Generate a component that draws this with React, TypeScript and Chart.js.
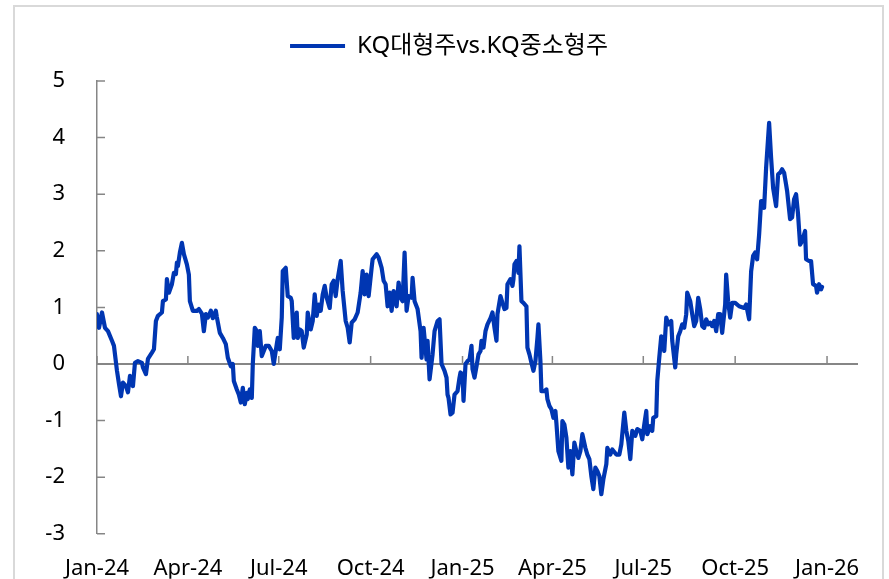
import { useEffect, useRef } from "react";
import { Chart, registerables } from "chart.js";

Chart.register(...registerables);

const SERIES_LABEL = "KQ대형주vs.KQ중소형주";
const LINE_COLOR = "#0036B2";

// x axis: days since 2024-01-01, quarterly labels
const tickDays = [0, 91, 182, 274, 366, 456, 547, 639, 731];
const tickLabels = ["Jan-24", "Apr-24", "Jul-24", "Oct-24", "Jan-25", "Apr-25", "Jul-25", "Oct-25", "Jan-26"];
const axisMaxDay = 762;
const yTicks = [-3, -2, -1, 0, 1, 2, 3, 4, 5];

// observation days (since 2024-01-01)
const days = [
  0, 2, 5, 8, 11, 15, 17, 20, 22, 24,
  26, 29, 31, 33, 36, 38, 41, 45, 46, 49,
  51, 55, 57, 59, 61, 65, 66, 69, 70, 72,
  75, 77, 79, 80, 81, 83, 85, 87, 90, 92,
  93, 96, 100, 102, 105, 107, 109, 111, 114, 116,
  119, 120, 123, 126, 129, 131, 134, 136, 137, 140,
  142, 144, 146, 148, 150, 151, 153, 155, 156, 158,
  160, 161, 163, 165, 169, 172, 175, 177, 180, 181,
  183, 185, 186, 189, 191, 194, 195, 197, 200, 201,
  203, 205, 207, 210, 211, 214, 216, 218, 220, 222,
  224, 226, 228, 230, 233, 235, 237, 239, 241, 244,
  246, 249, 251, 253, 255, 258, 261, 264, 266, 268,
  270, 272, 275, 276, 280, 282, 285, 287, 289, 291,
  293, 295, 297, 300, 302, 304, 306, 308, 310, 312,
  315, 316, 318, 321, 324, 325, 327, 330, 331, 333,
  336, 338, 341, 343, 345, 348, 350, 351, 352, 354,
  356, 358, 361, 363, 364, 366, 367, 369, 371, 373,
  375, 376, 378, 380, 382, 384, 385, 387, 389, 391,
  394, 396, 398, 400, 401, 404, 406, 408, 410, 411,
  414, 416, 417, 418, 420, 422, 423, 425, 427, 430,
  431, 433, 435, 437, 439, 441, 442, 444, 445, 448,
  450, 451, 453, 455, 457, 459, 460, 462, 465, 466,
  468, 470, 472, 474, 476, 478, 480, 482, 484, 486,
  489, 491, 493, 495, 497, 499, 501, 503, 505, 507,
  510, 511, 514, 516, 520, 523, 525, 528, 530, 532,
  534, 536, 539, 541, 544, 546, 548, 550, 551, 554,
  556, 557, 560, 561, 563, 565, 566, 568, 570, 572,
  575, 576, 579, 580, 582, 584, 586, 588, 590, 591,
  594, 596, 598, 600, 602, 604, 606, 608, 610, 612,
  614, 616, 618, 620, 622, 624, 626, 629, 630, 632,
  634, 636, 639, 643, 648, 650, 653, 655, 657, 659,
  661, 663, 665, 666, 668, 670, 673, 675, 677, 680,
  682, 684, 686, 688, 690, 691, 694, 696, 698, 700,
  702, 704, 706, 709, 710, 713, 715, 717, 720, 721,
  723, 725, 726,
];

// KQ large caps vs KQ small/mid caps spread
const spread = [
  0.88, 0.64, 0.91, 0.64, 0.58, 0.41, 0.32, -0.12, -0.35, -0.57,
  -0.33, -0.39, -0.5, -0.21, -0.39, 0.02, 0.05, 0.02, -0.06, -0.18,
  0.09, 0.2, 0.26, 0.76, 0.85, 0.91, 1.11, 1.14, 1.5, 1.26,
  1.41, 1.61, 1.59, 1.79, 1.73, 1.97, 2.14, 1.94, 1.76, 1.58,
  1.11, 0.94, 0.94, 0.97, 0.89, 0.58, 0.88, 0.82, 0.94, 0.81,
  0.94, 0.83, 0.55, 0.46, 0.35, 0.11, -0.04, 0, -0.3, -0.45,
  -0.54, -0.68, -0.42, -0.71, -0.51, -0.62, -0.45, -0.6, 0, 0.64,
  0.58, 0.32, 0.58, 0.14, 0.32, 0.32, 0.23, 0, 0.35, 0.46,
  0.26, 0.82, 1.64, 1.7, 1.2, 1.17, 1.11, 0.46, 0.91, 0.46,
  0.61, 0.58, 0.29, 0.52, 0.91, 0.61, 0.76, 1.23, 0.85, 1.05,
  0.94, 1.23, 1.38, 1.17, 0.99, 1.41, 1.47, 1.2, 1.5, 1.82,
  1.29, 0.76, 0.64, 0.38, 0.73, 0.79, 0.91, 1.26, 1.64, 1.23,
  1.58, 1.2, 1.7, 1.85, 1.94, 1.88, 1.7, 1.47, 1.41, 1.02,
  1.26, 0.94, 1.29, 1.02, 1.44, 1.17, 1.11, 1.97, 0.94, 1.2,
  1.17, 1.52, 1.11, 0.97, 0.58, 0.11, 0.64, 0.08, 0.41, -0.27,
  0.17, 0.58, 0.76, 0.79, 0, -0.12, -0.24, -0.54, -0.6, -0.89,
  -0.86, -0.54, -0.48, -0.24, -0.15, -0.18, -0.65, 0, 0.05, 0.08,
  0.32, -0.09, -0.24, -0.04, 0.17, 0.23, 0.41, 0.29, 0.58, 0.7,
  0.81, 0.91, 0.64, 0.41, 0.88, 1.2, 1.08, 0.97, 0.99, 1.41,
  1.5, 1.38, 1.5, 1.76, 1.82, 1.61, 2.08, 1.11, 1.08, 1.02,
  0.29, 0.17, 0.02, -0.12, 0.05, 0.46, 0.7, 0.05, -0.48, -0.48,
  -0.45, -0.62, -0.74, -0.8, -0.95, -0.83, -1.04, -1.54, -1.71, -1.01,
  -1.07, -1.3, -1.83, -1.54, -1.95, -1.39, -1.54, -1.66, -1.54, -1.24,
  -1.48, -1.6, -1.68, -1.98, -2.21, -1.83, -1.89, -1.98, -2.3, -2.04,
  -1.77, -1.48, -1.6, -1.51, -1.6, -1.6, -1.42, -0.86, -1.18, -1.36,
  -1.68, -1.18, -1.27, -1.15, -1.18, -1.33, -1.07, -0.83, -1.24, -1.1,
  -1.18, -0.95, -0.92, -0.3, 0.11, 0.49, 0.41, 0.23, 0.82, 0.7,
  0.76, 0.41, -0.06, 0.17, 0.49, 0.58, 0.7, 0.64, 0.88, 1.26,
  1.11, 0.88, 0.67, 0.76, 1.17, 0.97, 0.67, 0.64, 0.79, 0.7,
  0.73, 0.67, 0.76, 0.58, 0.88, 0.88, 0.55, 1.05, 1.58, 1.1,
  0.82, 1.08, 1.08, 1.02, 0.99, 1.05, 0.79, 1.64, 1.91, 1.97,
  1.85, 2.29, 2.88, 2.88, 2.76, 3.47, 4.26, 3.64, 3.11, 2.79,
  3.35, 3.38, 3.44, 3.38, 3.17, 3.06, 2.56, 2.59, 2.91, 3.0,
  2.64, 2.11, 2.17, 2.35, 1.85, 1.82, 1.82, 1.41, 1.38, 1.26,
  1.41, 1.32, 1.36,
];

const FONT_FAMILY = "'Noto Sans', 'Noto Sans CJK KR', sans-serif";
const AXIS_GRAY = "#868686";

const excelAxisPlugin = {
  id: "excelAxis",
  beforeDatasetsDraw(chart: any) {
    const { ctx, chartArea, scales } = chart;
    const x = scales.x;
    const y = scales.y;
    const y0 = y.getPixelForValue(0);
    ctx.save();
    ctx.strokeStyle = AXIS_GRAY;
    ctx.lineWidth = 2;
    ctx.beginPath();
    ctx.moveTo(chartArea.left, y0);
    ctx.lineTo(chartArea.right, y0);
    ctx.stroke();
    ctx.lineWidth = 1.5;
    ctx.beginPath();
    for (const d of tickDays) {
      const px = x.getPixelForValue(d);
      ctx.moveTo(px, y0);
      ctx.lineTo(px, y0 - 8);
    }
    for (const v of yTicks) {
      const py = y.getPixelForValue(v);
      ctx.moveTo(chartArea.left, py);
      ctx.lineTo(chartArea.left + 8, py);
    }
    ctx.stroke();
    ctx.restore();
  },
};

export default function App() {
  const canvasRef = useRef<HTMLCanvasElement | null>(null);

  useEffect(() => {
    const canvas = canvasRef.current;
    if (!canvas) return;
    const chart = new Chart(canvas, {
      type: "line",
      data: {
        datasets: [
          {
            label: SERIES_LABEL,
            data: days.map((d, i) => ({ x: d, y: spread[i] })),
            borderColor: LINE_COLOR,
            backgroundColor: LINE_COLOR,
            borderWidth: 4.2,
            pointRadius: 0,
            tension: 0,
            borderJoinStyle: "round",
            borderCapStyle: "round",
          },
        ],
      },
      options: {
        responsive: false,
        animation: false,
        devicePixelRatio: 1,
        layout: { padding: { left: 40, right: 31, top: 24, bottom: 0 } },
        plugins: {
          legend: {
            display: true,
            position: "top",
            labels: {
              boxWidth: 55,
              boxHeight: 4,
              padding: 10,
              color: "#000",
              font: { family: FONT_FAMILY, size: 24 },
              generateLabels: (c: any) =>
                Chart.defaults.plugins.legend.labels.generateLabels(c).map((l: any) => ({
                  ...l,
                  lineWidth: 0,
                  fillStyle: LINE_COLOR,
                  strokeStyle: LINE_COLOR,
                })),
            },
          },
          subtitle: {
            display: true,
            text: "",
            weight: 100,
            font: { size: 2 },
            padding: { top: 5, bottom: 5.6 },
          } as any,
          tooltip: { enabled: false },
        },
        scales: {
          x: {
            type: "linear",
            min: 0,
            max: axisMaxDay,
            grid: { display: false, drawTicks: false },
            border: { display: false },
            afterBuildTicks: (s: any) => {
              s.ticks = tickDays.map((v) => ({ value: v }));
            },
            afterFit: (s: any) => {
              s.height = 45;
            },
            ticks: {
              autoSkip: false,
              maxRotation: 0,
              padding: 22,
              color: "#000",
              font: { family: FONT_FAMILY, size: 22 },
              callback: (_v: any, i: number) => tickLabels[i] ?? "",
            },
          },
          y: {
            type: "linear",
            min: -3,
            max: 5,
            grid: { display: false, drawTicks: false },
            border: { display: true, color: AXIS_GRAY, width: 1.5 },
            afterFit: (s: any) => {
              s.width = 57;
            },
            ticks: {
              stepSize: 1,
              padding: 32,
              color: "#000",
              font: { family: FONT_FAMILY, size: 22 },
            },
          },
        },
      },
      plugins: [excelAxisPlugin],
    } as any);
    return () => chart.destroy();
  }, []);

  return (
    <div
      style={{
        position: "fixed",
        left: 0,
        top: 0,
        width: 889,
        height: 579,
        overflow: "hidden",
        background: "#fff",
      }}
    >
      <div
        style={{
          position: "absolute",
          left: 13,
          top: 5,
          width: 871,
          height: 620,
          border: "2.5px solid #d9d9d9",
          boxSizing: "border-box",
        }}
      />
      <canvas
        ref={canvasRef}
        width={889}
        height={579}
        style={{ position: "absolute", left: 0, top: 0, width: 889, height: 579 }}
      />
    </div>
  );
}
